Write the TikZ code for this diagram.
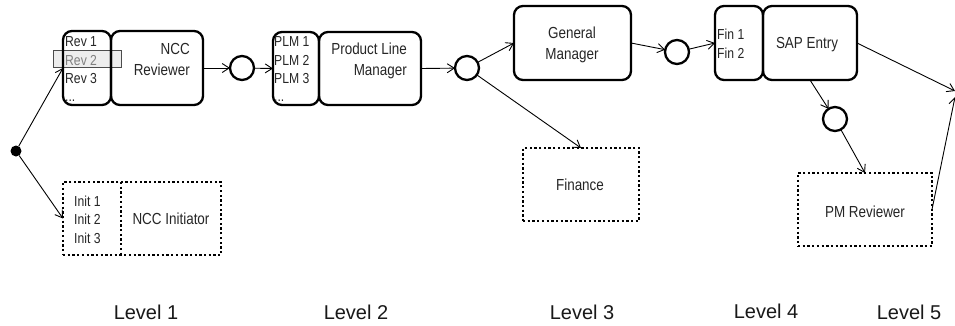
\documentclass[tikz,border=0pt]{standalone}
\usepackage{fontspec}
\setmainfont{Liberation Sans}
\newfontfamily\boxfont[FakeStretch=0.84]{Liberation Sans}
\usetikzlibrary{arrows.meta}

\tikzset{
  lane/.style={draw=black, line width=2.3pt, rounded corners=9pt, inner sep=0pt, outer sep=0pt},
  dotline/.style={draw=black, line width=2.3pt, dash pattern=on 2.3pt off 2.4pt},
  pool/.style={dotline, inner sep=0pt, outer sep=0pt},
  gate/.style={circle, draw=black, line width=2.3pt, minimum size=24pt, inner sep=0pt, outer sep=0pt},
  start/.style={circle, fill=black, minimum size=11pt, inner sep=0pt, outer sep=0pt},
  flow/.style={-{Straight Barb[length=7pt,width=9pt]}, line width=0.9pt, draw=black},
  member/.style={font=\boxfont\fontsize{14.5}{18.5}\selectfont, text=black!85, anchor=base west, inner sep=0pt},
  role/.style={font=\boxfont\fontsize{16}{21}\selectfont, text=black!85, inner sep=0pt},
  level/.style={font=\fontsize{20}{24}\selectfont, text=black!90, anchor=base, inner sep=0pt},
}

\begin{document}
\begin{tikzpicture}[x=1pt, y=-1pt]
\useasboundingbox (0,0) rectangle (955,325);
\fill[white] (0,0) rectangle (955,325);
\clip (0,0) rectangle (955,325);

% selected reviewer highlight (under the lane borders)
\node[draw=black!70, fill=black!7, line width=0.8pt, minimum width=68pt, minimum height=17pt, inner sep=0pt] (revsel) at (87,58.5) {};

% Level 1
\node[start] (begin) at (16,151) {};
\node[lane, minimum width=48pt, minimum height=74pt] (rev) at (87,68) {};
\node[lane, minimum width=92pt, minimum height=74pt] (ncc) at (157,68) {};
\node[member] (rev1) at (65,46) {Rev 1};
\node[member, text=black!50] (rev2) at (65,65) {Rev 2};
\node[member] (rev3) at (65,83.5) {Rev 3};
\node[member] (revmore) at (65,101) {...};
\node[role, align=right, anchor=base east] (nccrole) at (190,75.7) {NCC\\Reviewer};

% initiator pool: one dotted frame split into a team column and a role column
\node[pool, minimum width=158pt, minimum height=73pt] (initframe) at (142,218.5) {};
\node[inner sep=0pt, outer sep=0pt, minimum width=58pt, minimum height=73pt] (init) at (92,218.5) {};
\draw[dotline] (init.north east) -- (init.south east);
\node[member] (init1) at (74,206) {Init 1};
\node[member] (init2) at (74,224.5) {Init 2};
\node[member] (init3) at (74,243) {Init 3};
\node[role, anchor=base] (initrole) at (171,224.7) {NCC Initiator};

% Level 2
\node[gate] (c1) at (242,68) {};
\node[lane, minimum width=46pt, minimum height=73pt] (plm) at (296,68.5) {};
\node[lane, minimum width=102pt, minimum height=73pt] (plmmain) at (370,68.5) {};
\node[member] (plm1) at (274,46) {PLM 1};
\node[member] (plm2) at (274,65) {PLM 2};
\node[member] (plm3) at (274,83.5) {PLM 3};
\node[member] (plmmore) at (274,101) {...};
\node[role, align=right, anchor=base east] (plmrole) at (407,75.7) {Product Line\\Manager};

% Level 3
\node[gate] (c2) at (467,68) {};
\node[lane, minimum width=117pt, minimum height=74pt] (gm) at (572.5,43) {};
\node[role, align=center, anchor=base] (gmrole) at (572,59.7) {General\\Manager};
\node[pool, minimum width=116pt, minimum height=73pt] (fin) at (581,184.5) {};
\node[role, anchor=base] (finrole) at (580,190.7) {Finance};

% Level 4
\node[gate] (c3) at (677,52) {};
\node[lane, minimum width=48pt, minimum height=74pt] (finteam) at (739,43) {};
\node[lane, minimum width=94pt, minimum height=74pt] (sap) at (810,43) {};
\node[member] (fin1) at (717,39) {Fin 1};
\node[member] (fin2) at (717,58) {Fin 2};
\node[role, anchor=base] (saprole) at (807,48.7) {SAP Entry};
\node[gate] (c4) at (835,119) {};
\node[pool, minimum width=134pt, minimum height=73pt] (pm) at (865,209.5) {};
\node[role, anchor=base] (pmrole) at (865,217.7) {PM Reviewer};

% Level 5 (continues past the right edge)
\coordinate (outA) at (955,91);
\coordinate (outB) at (955,97);

% connectors
\draw[flow] (begin) -- (rev.west);
\draw[flow] (begin) -- (init.west);
\draw[flow] (ncc.east) -- (c1);
\draw[flow] (c1) -- (plm.west);
\draw[flow] (plmmain.east) -- (c2);
\draw[flow] (c2) -- (gm.west);
\draw[flow] (c2) -- (fin.north);
\draw[flow] (gm.east) -- (c3);
\draw[flow] (c3) -- (finteam.west);
\draw[flow] (sap.south) -- (c4);
\draw[flow] (c4) -- (pm.north);
\draw[flow] (sap.east) -- (outA);
\draw[flow] (pm.east) -- (outB);

% levels
\node[level] (lv1) at (146,319) {Level 1};
\node[level] (lv2) at (356,319) {Level 2};
\node[level] (lv3) at (582,319) {Level 3};
\node[level] (lv4) at (766,318) {Level 4};
\node[level] (lv5) at (909,319) {Level 5};
\end{tikzpicture}
\end{document}
